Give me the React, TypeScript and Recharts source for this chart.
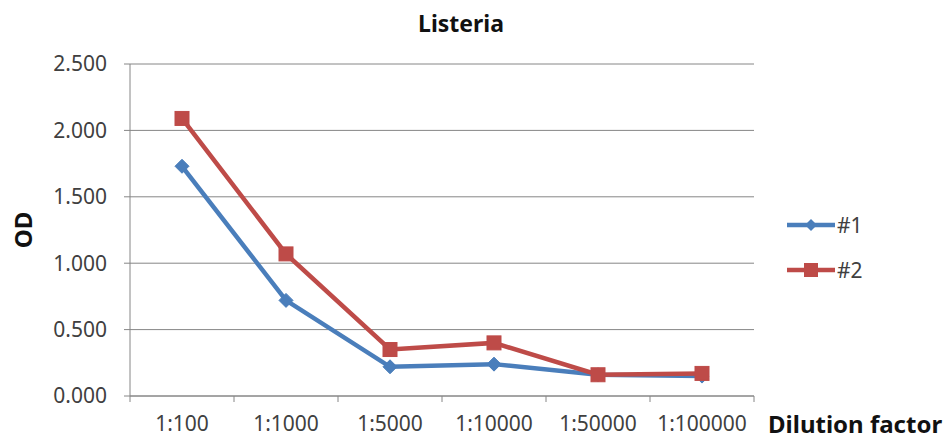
import { LineChart, Line, XAxis, YAxis, CartesianGrid } from 'recharts';

const dilutions = ['1:100', '1:1000', '1:5000', '1:10000', '1:50000', '1:100000'];
const sample1 = [1.73, 0.72, 0.22, 0.24, 0.16, 0.15];
const sample2 = [2.09, 1.07, 0.35, 0.40, 0.16, 0.17];
const odTicks = [0, 0.5, 1, 1.5, 2, 2.5];

const BLUE = '#4a7ebb';
const RED = '#be4b48';
const GRID = '#868686';
const LABEL = '#404040';
const FONT = '"Noto Sans", "Open Sans", sans-serif';

const data = dilutions.map((d, i) => ({ dilution: d, s1: sample1[i], s2: sample2[i] }));

// plot box: 130..754 wide, six categories
const BAND = (754 - 130) / dilutions.length;

const Diamond = (props: any) => {
  const { cx, cy } = props;
  if (cx == null || cy == null) return null;
  const r = 7;
  return (
    <polygon
      points={`${cx},${cy - r} ${cx + r},${cy} ${cx},${cy + r} ${cx - r},${cy}`}
      fill={BLUE}
      stroke={BLUE}
    />
  );
};

const Square = (props: any) => {
  const { cx, cy } = props;
  if (cx == null || cy == null) return null;
  const h = 7;
  return <rect x={cx - h} y={cy - h} width={h * 2} height={h * 2} fill={RED} stroke={RED} />;
};

const XTick = (props: any) => {
  const { x, y, payload, index } = props;
  return (
    <g>
      <line x1={x - BAND / 2} x2={x - BAND / 2} y1={y} y2={y + 6} stroke={GRID} />
      {index === dilutions.length - 1 && (
        <line x1={x + BAND / 2} x2={x + BAND / 2} y1={y} y2={y + 6} stroke={GRID} />
      )}
      <text x={x} y={y + 35} textAnchor="middle" fontSize={21} fill={LABEL} fontFamily={FONT}>
        {payload.value}
      </text>
    </g>
  );
};

const legendItems = [
  { name: '#1', color: BLUE, shape: 'diamond' },
  { name: '#2', color: RED, shape: 'square' },
];

// titles and legend drawn over the chart
const Overlay = () => (
  <svg width={945} height={448} style={{ position: 'absolute', left: 0, top: 0, pointerEvents: 'none' }}>
    <text x={461} y={32} textAnchor="middle" fontSize={23} fontWeight={700} fill="#111" fontFamily={FONT}>
      Listeria
    </text>
    <text
      x={0}
      y={0}
      transform="translate(32,230) rotate(-90)"
      textAnchor="middle"
      fontSize={24}
      fontWeight={700}
      fill="#111"
      fontFamily={FONT}
    >
      OD
    </text>
    <text x={768} y={433} fontSize={24} fontWeight={700} fill="#111" fontFamily={FONT}>
      Dilution factor
    </text>
    {legendItems.map((it, i) => {
      const cy = 225 + i * 45;
      return (
        <g key={it.name}>
          <line x1={787} x2={835} y1={cy} y2={cy} stroke={it.color} strokeWidth={4.5} />
          {it.shape === 'diamond' ? (
            <polygon points={`811,${cy - 6} 817,${cy} 811,${cy + 6} 805,${cy}`} fill={it.color} />
          ) : (
            <rect x={804} y={cy - 7} width={14} height={14} fill={it.color} />
          )}
          <text x={837} y={cy + 8} fontSize={21} fill={LABEL} fontFamily={FONT}>
            {it.name}
          </text>
        </g>
      );
    })}
  </svg>
);

export default function App() {
  return (
    <div style={{ position: 'absolute', left: 0, top: 0, width: 945, height: 448, background: '#fff' }}>
      <div style={{ position: 'absolute', left: 0, top: 0 }}>
        <LineChart
          width={945}
          height={448}
          data={data}
          margin={{ top: 64, right: 191, bottom: 0, left: 0 }}
        >
          <CartesianGrid vertical={false} stroke={GRID} strokeWidth={1} />
          <XAxis
            dataKey="dilution"
            padding={{ left: BAND / 2, right: BAND / 2 }}
            axisLine={{ stroke: GRID }}
            tickLine={false}
            tickSize={0}
            tickMargin={0}
            interval={0}
            height={52}
            tick={<XTick />}
          />
          <YAxis
            width={130}
            domain={[0, 2.5]}
            ticks={odTicks}
            interval={0}
            axisLine={{ stroke: GRID }}
            tickLine={{ stroke: GRID }}
            tickSize={6}
            tickMargin={17}
            tickFormatter={(v: number) => v.toFixed(3)}
            tick={{ fontSize: 21, fill: LABEL, fontFamily: FONT }}
          />
          <Line
            dataKey="s1"
            name="#1"
            stroke={BLUE}
            strokeWidth={4.5}
            dot={<Diamond />}
            activeDot={false}
            isAnimationActive={false}
          />
          <Line
            dataKey="s2"
            name="#2"
            stroke={RED}
            strokeWidth={4.5}
            dot={<Square />}
            activeDot={false}
            isAnimationActive={false}
          />
        </LineChart>
      </div>
      <Overlay />
    </div>
  );
}
